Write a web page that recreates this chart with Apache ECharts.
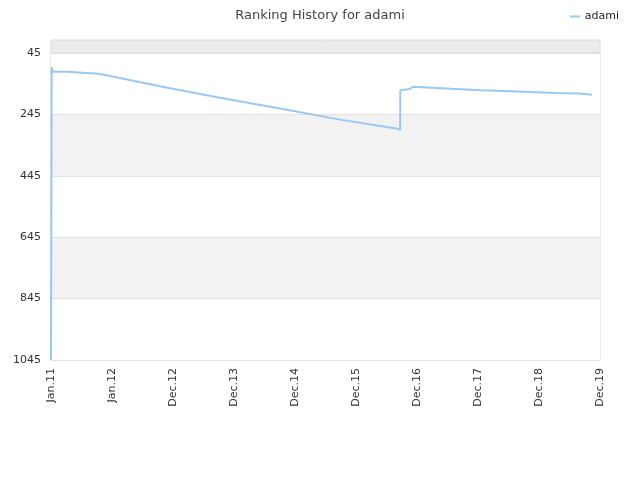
<!DOCTYPE html>
<html>
<head>
<meta charset="utf-8">
<script src="https://cdn.jsdelivr.net/npm/echarts@6/dist/echarts.min.js"></script>
<style>html,body{margin:0;padding:0;background:#fff}#c{width:640px;height:480px}</style>
</head>
<body>
<div id="c"></div>
<script>
var seriesName = 'adami';
var dates = ['2011-01-01','2011-01-05','2011-01-10','2011-04-13','2011-04-13','2011-07-05','2011-07-05','2011-09-28','2011-09-28','2011-11-14',
  '2012-10-20','2013-10-08','2014-10-02','2015-09-26','2016-09-07','2016-09-20','2016-09-21','2016-11-18','2016-12-06','2016-12-12',
  '2017-03-30','2017-03-30','2017-08-20','2017-08-20','2018-01-17','2018-01-17','2018-06-10','2018-06-10','2018-11-06','2018-11-06',
  '2019-04-05','2019-04-05','2019-08-26','2019-08-26','2019-11-12'];
var ranks = [1045,90,106,106,109,109,112,112,116,116,
  154,191,226,262,292,296,166,162,155,158,
  158,162,162,166,166,169,169,172,172,175,
  175,177,177,181,181];
var xTickLabels = ['Jan.11','Jan.12','Dec.12','Dec.13','Dec.14','Dec.15','Dec.16','Dec.17','Dec.18','Dec.19'];
var yTickLabels = [45,245,445,645,845,1045];

var DAY = 86400000;
var origin = Date.parse('2011-01-01');
var yBase = yTickLabels[0];
var data = dates.map(function(d,i){ return [(Date.parse(d)-origin)/DAY, ranks[i]-yBase]; });

var chart = echarts.init(document.getElementById('c'), null, {renderer:'canvas'});
var font = 'DejaVu Sans';
chart.setOption({
  animation: false,
  textStyle: {fontFamily: font},
  title: {text: 'Ranking History for ' + seriesName, left: 'center', top: 4,
    textStyle: {fontFamily: font, fontSize: 13, fontWeight: 'normal', color: '#444'}},
  legend: {right: 16, top: 6, icon: 'rect', itemWidth: 10, itemHeight: 2, itemGap: 6,
    textStyle: {fontFamily: font, fontSize: 11, color: '#222'}, data: [seriesName]},
  grid: {left: 51, right: 40, top: 53, bottom: 120, show: true, borderColor: '#dadada', borderWidth: 1, backgroundColor: 'transparent'},
  graphic: [{type: 'rect', shape: {x: 51, y: 40, width: 549, height: 13}, style: {fill: '#ececec', stroke: '#dadada', lineWidth: 1}, z: -1}],
  xAxis: {type: 'value', min: 0, max: 365*(xTickLabels.length-1), interval: 365,
    axisLine: {show: false}, axisTick: {show: false}, splitLine: {show: false},
    axisLabel: {rotate: 90, margin: 8, fontSize: 11, color: '#333', fontFamily: font,
      formatter: function(v){ return xTickLabels[Math.round(v/365)]; }}},
  yAxis: {type: 'value', inverse: true, min: 0, max: yTickLabels[yTickLabels.length-1]-yBase, interval: 200,
    axisLine: {show: false}, axisTick: {show: false},
    splitLine: {show: true, lineStyle: {color: '#e2e2e2'}},
    splitArea: {show: true, areaStyle: {color: ['#ffffff', '#f2f2f2']}},
    axisLabel: {margin: 10, fontSize: 11, color: '#333', fontFamily: font,
      formatter: function(v){ return String(v + yBase); }}},
  series: [{name: seriesName, type: 'line', data: data, showSymbol: false, symbol: 'none',
    lineStyle: {color: '#9ac8f5', width: 2}, itemStyle: {color: '#9ac8f5'}}]
});
</script>
</body>
</html>
